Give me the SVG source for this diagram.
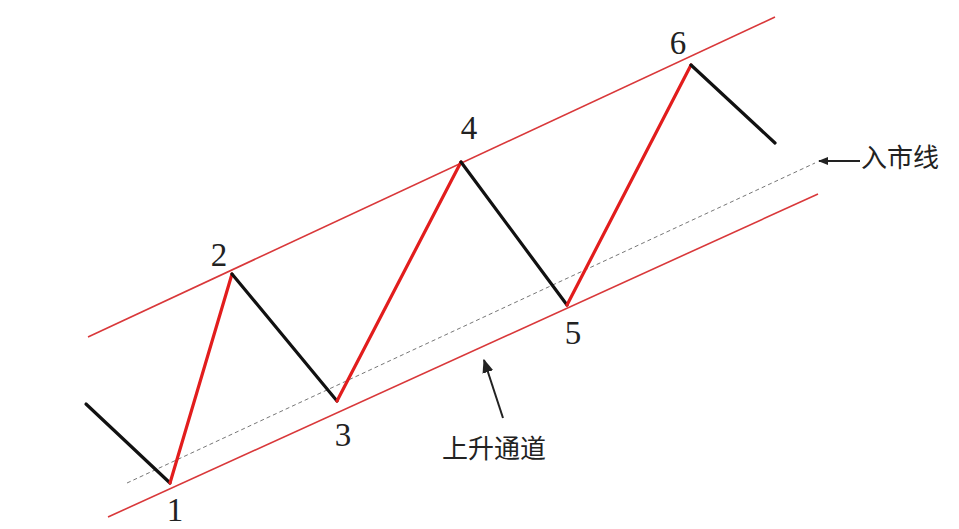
<svg xmlns="http://www.w3.org/2000/svg" width="959" height="529" viewBox="0 0 959 529">
<defs>
<style>
.chan{stroke:#d9383a;stroke-width:1.6;fill:none}
.up{stroke:#e21d1d;stroke-width:3.2;fill:none;stroke-linecap:round}
.down{stroke:#111;stroke-width:3.2;fill:none;stroke-linecap:round}
.dash{stroke:#777;stroke-width:1;stroke-dasharray:4 3;fill:none}
.num{font-family:"Liberation Serif","DejaVu Serif",serif;font-size:33px;fill:#222;text-anchor:middle}
.cjk{font-family:"Noto Sans CJK SC","Noto Sans CJK JP",sans-serif;font-size:26px;fill:#222}
.ptr{stroke:#222;stroke-width:2;fill:none}
</style>
<marker id="ah" viewBox="0 0 10 10" refX="9" refY="5" markerWidth="10" markerHeight="10" markerUnits="userSpaceOnUse" orient="auto">
<path d="M0,1 L10,5 L0,9 Z" fill="#222"/>
</marker>
<marker id="ah2" viewBox="0 0 10 10" refX="9" refY="5" markerWidth="14" markerHeight="14" markerUnits="userSpaceOnUse" orient="auto">
<path d="M0,1 L10,5 L0,9 Z" fill="#222"/>
</marker>
</defs>
<rect width="959" height="529" fill="#fff"/>
<g id="channel">
<line class="chan" x1="88" y1="337" x2="775" y2="17"/>
<line class="chan" x1="108" y1="517" x2="818" y2="194"/>
<line class="dash" x1="127" y1="483" x2="815" y2="163"/>
</g>
<g id="connectors">
<line class="down" x1="86" y1="404" x2="170" y2="483"/>
<line class="up" x1="170" y1="483" x2="232" y2="274"/>
<line class="down" x1="232" y1="274" x2="337" y2="401"/>
<line class="up" x1="337" y1="401" x2="461" y2="162"/>
<line class="down" x1="461" y1="162" x2="567" y2="305"/>
<line class="up" x1="567" y1="305" x2="691" y2="65"/>
<line class="down" x1="691" y1="65" x2="775" y2="143"/>
<line class="ptr" x1="503" y1="418" x2="484" y2="360" marker-end="url(#ah2)"/>
<line class="ptr" x1="860" y1="161" x2="819" y2="161" marker-end="url(#ah)"/>
</g>
<g id="p1"><text class="num" x="175" y="521">1</text></g>
<g id="p2"><text class="num" x="219" y="266">2</text></g>
<g id="p3"><text class="num" x="343" y="446">3</text></g>
<g id="p4"><text class="num" x="469" y="139">4</text></g>
<g id="p5"><text class="num" x="573" y="344">5</text></g>
<g id="p6"><text class="num" x="678" y="54">6</text></g>
<g id="label-channel"><text class="cjk" x="442" y="458">上升通道</text></g>
<g id="label-entry"><text class="cjk" x="861" y="167">入市线</text></g>
</svg>
